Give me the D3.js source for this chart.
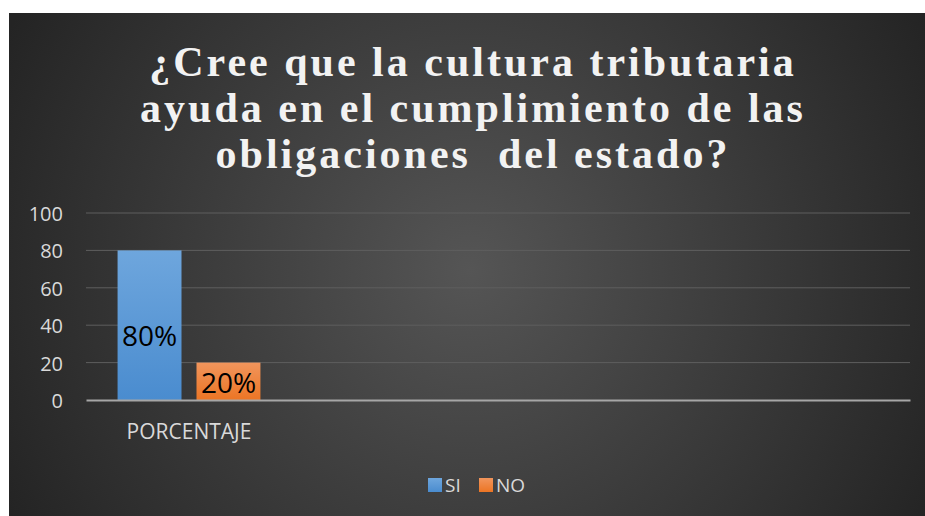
<!DOCTYPE html>
<html><head><meta charset="utf-8">
<script src="https://cdn.jsdelivr.net/npm/d3@7"></script>
<style>html,body{margin:0;padding:0;background:#fff;}svg{display:block;}</style>
</head><body>
<svg id="c" width="925" height="516"></svg>
<script>
const titleLines = ["¿Cree que la cultura tributaria", "ayuda en el cumplimiento de las", "obligaciones  del estado?"];
const categories = ["PORCENTAJE", "", "", ""];
const seriesNames = ["SI", "NO"];
const seriesValues = [[80], [20]];
const dataLabels = [["80%"], ["20%"]];
const yTicks = [0, 20, 40, 60, 80, 100];
const seriesColors = [["#6ea6dd", "#4a8ccf"], ["#f1955c", "#ec7524"]];

const svg = d3.select("#c");
const defs = svg.append("defs");
const rg = defs.append("radialGradient").attr("id", "bg").attr("gradientUnits", "userSpaceOnUse")
  .attr("cx", 470).attr("cy", 270).attr("r", 520);
rg.append("stop").attr("offset", "0").attr("stop-color", "#555555");
rg.append("stop").attr("offset", "1").attr("stop-color", "#242424");
seriesColors.forEach((c, i) => {
  const lg = defs.append("linearGradient").attr("id", "g" + i).attr("x1", 0).attr("y1", 0).attr("x2", 0).attr("y2", 1);
  lg.append("stop").attr("offset", "0").attr("stop-color", c[0]);
  lg.append("stop").attr("offset", "1").attr("stop-color", c[1]);
});

svg.append("rect").attr("x", 9).attr("y", 13).attr("width", 916).attr("height", 503).attr("fill", "url(#bg)");

const sans = "'Open Sans', 'Liberation Sans', sans-serif";

// title
const t = svg.append("text").attr("text-anchor", "middle")
  .attr("font-family", "'Liberation Serif', 'Times New Roman', serif")
  .attr("font-weight", "bold").attr("font-size", 42).attr("letter-spacing", 3).attr("fill", "#f2f2f2");
titleLines.forEach((l, i) => {
  t.append("tspan").attr("x", 473).attr("y", 76 + i * 46).style("white-space", "pre").text(l);
});

const x0 = d3.scaleBand().domain(d3.range(categories.length)).range([86, 910]);
const y = d3.scaleLinear().domain([0, 100]).range([400, 213]);
const x1 = d3.scaleBand().domain(d3.range(seriesNames.length)).range([0, x0.bandwidth()]).paddingInner(0.19).paddingOuter(0.4);

// gridlines
svg.append("g").selectAll("line").data(yTicks.filter(d => d > 0)).join("line")
  .attr("x1", 86).attr("x2", 910).attr("y1", d => y(d)).attr("y2", d => y(d))
  .attr("stroke", "#5e5e5e").attr("stroke-width", 1);

// y axis labels
const yAxis = d3.axisLeft(y).tickValues(yTicks).tickSize(0).tickPadding(0);
const yg = svg.append("g").attr("transform", "translate(63,1)").call(yAxis);
yg.select(".domain").remove();
yg.selectAll("text").attr("font-family", sans).attr("font-size", 20).attr("fill", "#d9d9d9");

// bars
const bars = svg.append("g");
seriesNames.forEach((s, si) => {
  seriesValues[si].forEach((v, ci) => {
    const bx = x0(ci) + x1(si);
    bars.append("rect").attr("x", bx).attr("y", y(v)).attr("width", x1.bandwidth()).attr("height", y(0) - y(v))
      .attr("fill", `url(#g${si})`);
  });
});
const labels = svg.append("g");
seriesNames.forEach((s, si) => {
  seriesValues[si].forEach((v, ci) => {
    const bx = x0(ci) + x1(si);
    const h = y(0) - y(v);
    const nudge = h > 60 ? 21 : 12;
    labels.append("text").attr("x", bx + x1.bandwidth() / 2).attr("y", (y(v) + y(0)) / 2 + nudge)
      .attr("text-anchor", "middle").attr("font-family", sans)
      .attr("font-size", 28).attr("fill", "#000").text(dataLabels[si][ci]);
  });
});

// x axis
const xAxis = d3.axisBottom(x0).tickFormat(i => categories[i]).tickSize(0).tickPadding(0);
const xg = svg.append("g").attr("transform", "translate(0,400)").call(xAxis);
xg.select(".domain").attr("stroke", "#a6a6a6").attr("stroke-width", 2);
xg.selectAll("text").attr("dy", 0).attr("y", 39).attr("font-family", sans).attr("font-size", 21).attr("fill", "#d9d9d9");

// legend
const leg = svg.append("g");
const legX = [428, 479];
seriesNames.forEach((s, i) => {
  leg.append("rect").attr("x", legX[i]).attr("y", 478).attr("width", 14).attr("height", 14).attr("fill", `url(#g${i})`);
  leg.append("text").attr("x", legX[i] + 17).attr("y", 492).attr("font-family", sans)
    .attr("font-size", 19).attr("fill", "#d9d9d9").text(s);
});
</script>
</body></html>
